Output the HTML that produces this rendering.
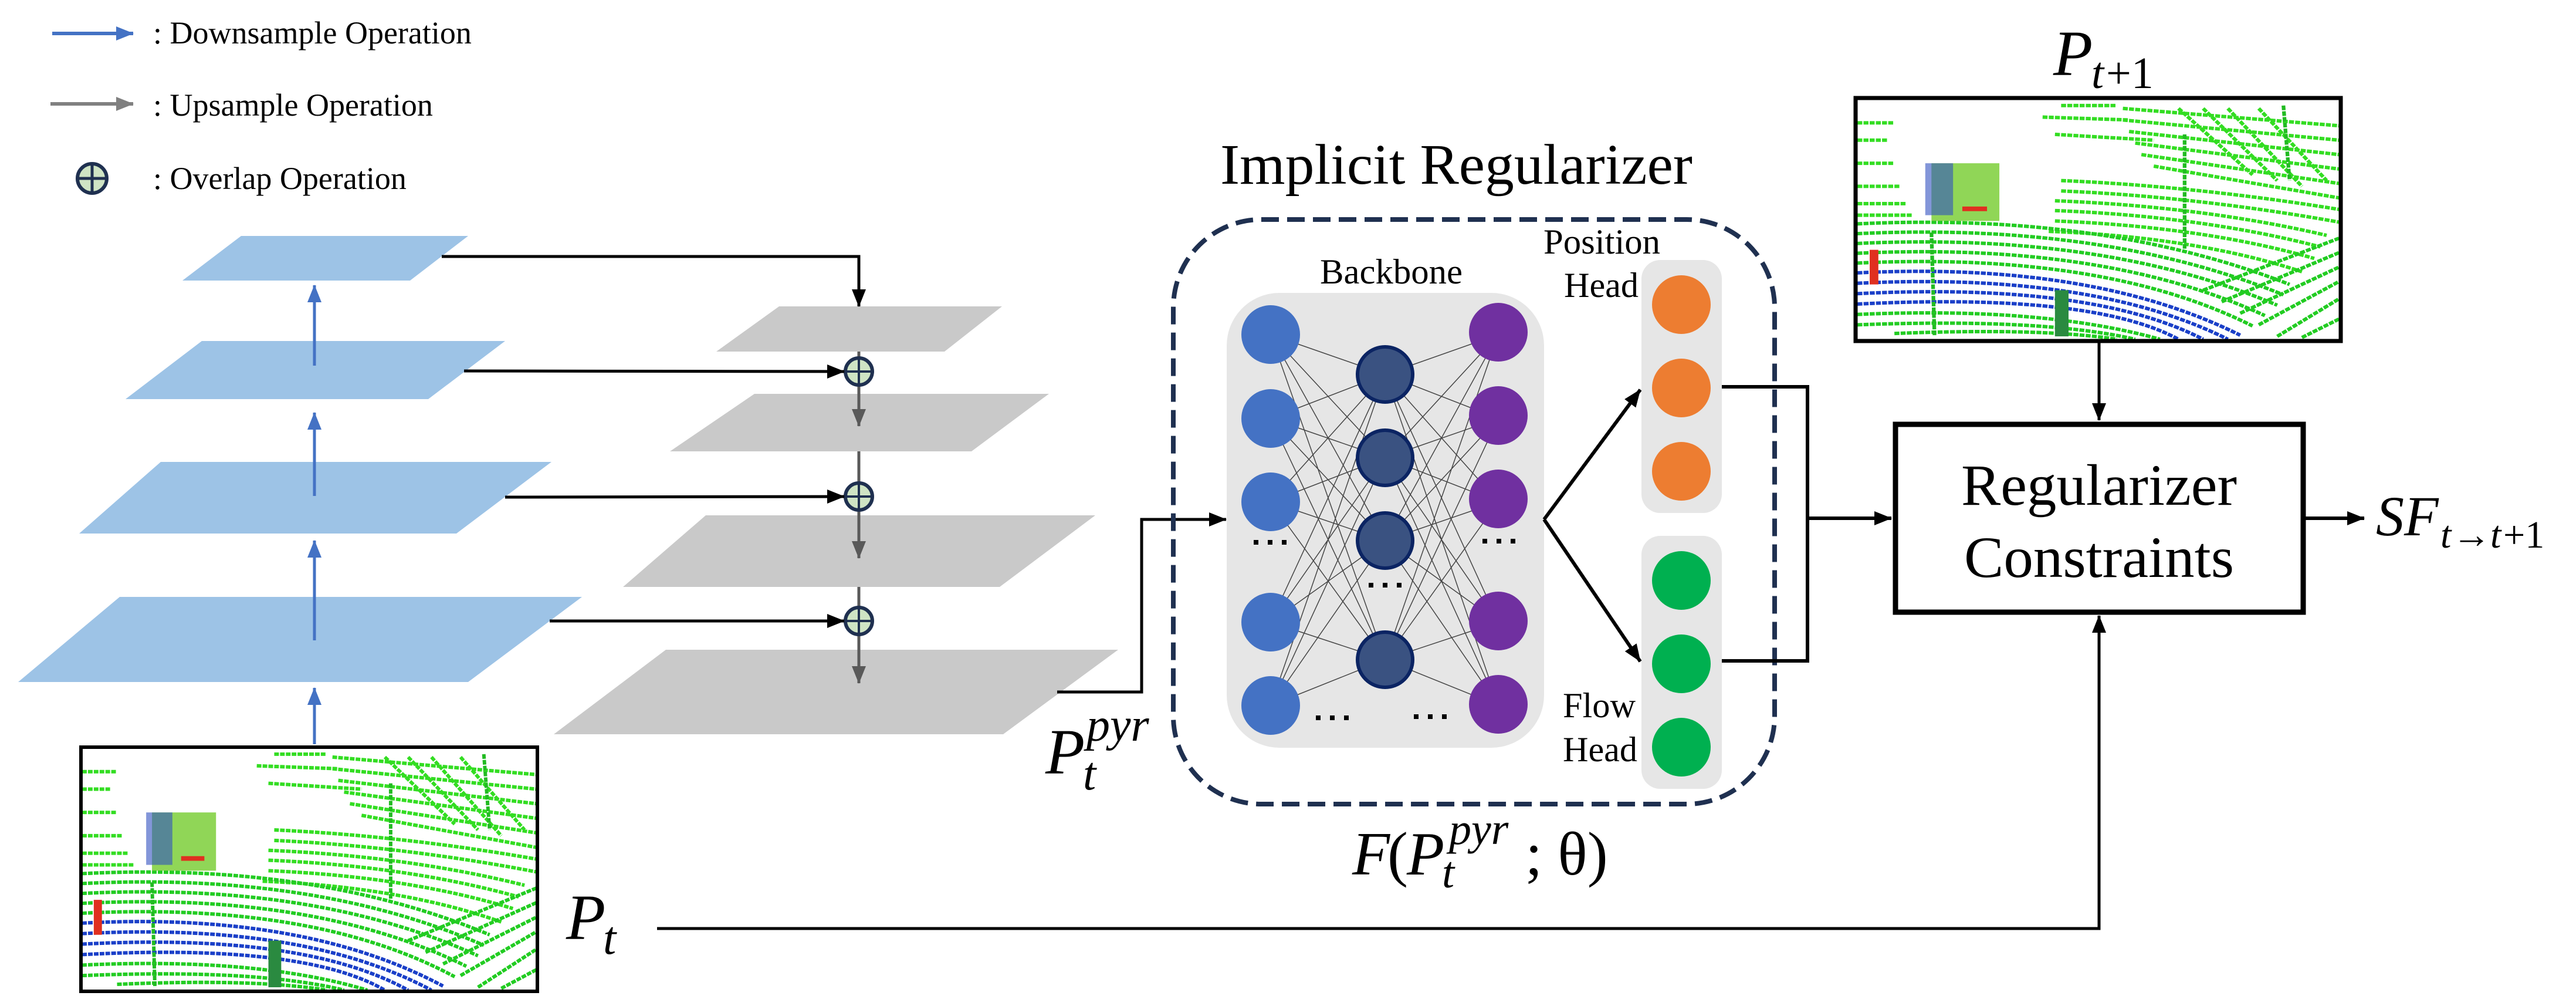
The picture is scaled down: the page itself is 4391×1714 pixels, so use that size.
<!DOCTYPE html>
<html><head><meta charset="utf-8"><style>
html,body{margin:0;padding:0;background:#fff;}
svg{display:block;}
svg text{font-family:"Liberation Serif","Times New Roman",Times,"DejaVu Serif","Noto Serif CJK SC",serif;}
</style></head><body>
<svg width="4391" height="1714" viewBox="0 0 4391 1714" xmlns="http://www.w3.org/2000/svg">
<defs>
<marker id="abk" markerWidth="30" markerHeight="30" refX="29" refY="15" orient="auto" markerUnits="userSpaceOnUse" viewBox="0 0 30 30"><path d="M0,3 L30,15 L0,27 z" fill="#000"/></marker>
<marker id="abl" markerWidth="30" markerHeight="30" refX="29" refY="15" orient="auto" markerUnits="userSpaceOnUse" viewBox="0 0 30 30"><path d="M0,3 L30,15 L0,27 z" fill="#4472c4"/></marker>
<marker id="agr" markerWidth="30" markerHeight="30" refX="29" refY="15" orient="auto" markerUnits="userSpaceOnUse" viewBox="0 0 30 30"><path d="M0,3 L30,15 L0,27 z" fill="#595959"/></marker>
<marker id="agr2" markerWidth="30" markerHeight="30" refX="29" refY="15" orient="auto" markerUnits="userSpaceOnUse" viewBox="0 0 30 30"><path d="M0,3 L30,15 L0,27 z" fill="#808080"/></marker>
<symbol id="pc" viewBox="0 0 780 415" preserveAspectRatio="none">
<rect x="0" y="0" width="780" height="415" fill="#fff"/>
<g fill="none" stroke-width="6" stroke-dasharray="8 2">
<path d="M0 40 L60 40 M0 70 L50 70 M0 110 L60 110 M0 150 L70 150 M0 180 L80 180 M0 200 L90 200" stroke="#33dd22"/>
<path d="M330 10 L420 10 M300 30 L440 35 M320 60 L480 70 M430 15 L780 45 M430 35 L780 70 M440 55 L780 95 M450 75 L780 120 M460 95 L780 145 M480 115 L780 170 M520 15 L640 130 M560 15 L680 140 M600 15 L720 150 M650 15 L760 140" stroke="#33dd22"/>
<path d="M330 140 Q550 150 780 190 M330 158 Q550 168 780 212 M320 175 Q560 185 760 235 M320 192 Q560 202 750 255 M320 210 Q560 220 740 275 M310 228 Q550 238 720 298" stroke="#33dd22"/>
<path d="M0 215 Q400 195 700 320 M0 232 Q400 212 690 338 M0 249 Q400 229 680 356 M0 266 Q400 246 660 374 M0 283 Q400 263 640 392" stroke="#22cc22"/>
<path d="M0 300 Q380 280 620 408 M0 318 Q380 298 600 415 M0 336 Q380 316 560 415 M0 354 Q380 334 520 415" stroke="#1a3fc8"/>
<path d="M0 372 Q300 358 490 415 M0 390 Q300 378 450 415 M60 405 Q300 395 420 415" stroke="#22cc22"/>
<path d="M560 330 L780 240 M590 350 L780 265 M620 370 L780 290 M650 390 L780 315 M680 410 L780 345 M720 412 L780 380" stroke="#22cc22"/>
<path d="M530 60 L530 260 M120 230 L125 410 M690 10 L700 140" stroke="#22bb22"/>
</g>
<rect x="120" y="110" width="110" height="100" fill="#7ccf3a" opacity="0.85"/>
<rect x="110" y="110" width="45" height="90" fill="#3050c0" opacity="0.6"/>
<rect x="170" y="185" width="40" height="8" fill="#e03020"/>
<rect x="20" y="260" width="14" height="60" fill="#e03020"/>
<rect x="320" y="330" width="22" height="80" fill="#2a8a40"/>
</symbol>
</defs>

<!-- Legend -->
<line x1="89" y1="57" x2="227" y2="57" stroke="#4472c4" stroke-width="6" marker-end="url(#abl)"/>
<text x="261" y="74" font-size="54">: Downsample Operation</text>
<line x1="86" y1="177" x2="227" y2="177" stroke="#808080" stroke-width="6" marker-end="url(#agr2)"/>
<text x="261" y="197" font-size="54">: Upsample Operation</text>
<circle cx="157" cy="304" r="25" fill="#cfe4c4" stroke="#1f3050" stroke-width="6"/>
<line x1="157" y1="279" x2="157" y2="329" stroke="#1f3050" stroke-width="5"/>
<line x1="132" y1="304" x2="182" y2="304" stroke="#1f3050" stroke-width="5"/>
<text x="261" y="322" font-size="54">: Overlap Operation</text>

<!-- Blue planes -->
<g fill="#9dc3e6">
<polygon points="411,402 798,402 699,478 311,478"/>
<polygon points="344,581 861,581 730,680 214,680"/>
<polygon points="274,787 940,787 778,909 135,909"/>
<polygon points="204,1017 992,1017 798,1162 31,1162"/>
</g>
<g stroke="#4472c4" stroke-width="5">
<line x1="536" y1="623" x2="536" y2="486" marker-end="url(#abl)"/>
<line x1="536" y1="845" x2="536" y2="703" marker-end="url(#abl)"/>
<line x1="536" y1="1091" x2="536" y2="921" marker-end="url(#abl)"/>
<line x1="536" y1="1268" x2="536" y2="1172" marker-end="url(#abl)"/>
</g>

<!-- Gray planes -->
<g fill="#c9c9c9">
<polygon points="1328,522 1708,522 1610,599 1221,599"/>
<polygon points="1286,671 1788,671 1656,769 1142,769"/>
<polygon points="1203,878 1867,878 1704,1000 1062,1000"/>
<polygon points="1135,1107 1906,1107 1710,1251 944,1251"/>
</g>
<g stroke="#595959" stroke-width="5">
<line x1="1464" y1="599" x2="1464" y2="610"/>
<line x1="1464" y1="655" x2="1464" y2="726" marker-end="url(#agr)"/>
<line x1="1464" y1="769" x2="1464" y2="824"/>
<line x1="1464" y1="868" x2="1464" y2="951" marker-end="url(#agr)"/>
<line x1="1464" y1="1000" x2="1464" y2="1036"/>
<line x1="1464" y1="1080" x2="1464" y2="1164" marker-end="url(#agr)"/>
</g>
<g>
<circle cx="1464" cy="633" r="23" fill="#cfe4c4" stroke="#1f3050" stroke-width="6"/>
<circle cx="1464" cy="846" r="23" fill="#cfe4c4" stroke="#1f3050" stroke-width="6"/>
<circle cx="1464" cy="1058" r="23" fill="#cfe4c4" stroke="#1f3050" stroke-width="6"/>
</g>
<g stroke="#1f3050" stroke-width="4">
<line x1="1464" y1="610" x2="1464" y2="656"/><line x1="1441" y1="633" x2="1487" y2="633"/>
<line x1="1464" y1="823" x2="1464" y2="869"/><line x1="1441" y1="846" x2="1487" y2="846"/>
<line x1="1464" y1="1035" x2="1464" y2="1081"/><line x1="1441" y1="1058" x2="1487" y2="1058"/>
</g>
<g stroke="#000" stroke-width="5" fill="none">
<polyline points="753,437 1464,437 1464,522" marker-end="url(#abk)"/>
<line x1="791" y1="632" x2="1439" y2="633" marker-end="url(#abk)"/>
<line x1="861" y1="847" x2="1439" y2="846" marker-end="url(#abk)"/>
<line x1="937" y1="1058" x2="1439" y2="1058" marker-end="url(#abk)"/>
<polyline points="1802,1179 1946,1179 1946,885 2090,885" marker-end="url(#abk)"/>
</g>

<!-- Pt image -->
<use href="#pc" x="140" y="1275" width="774" height="412"/>
<rect x="138" y="1273" width="778" height="416" fill="none" stroke="#000" stroke-width="6"/>
<text x="965" y="1600" font-size="110" font-style="italic">P</text>
<text x="1028" y="1625" font-size="80" font-style="italic">t</text>
<polyline points="1120,1582 3578,1582 3578,1049" fill="none" stroke="#000" stroke-width="5" marker-end="url(#abk)"/>

<!-- P_t^pyr -->
<text x="1782" y="1318" font-size="110" font-style="italic">P</text>
<text x="1846" y="1345" font-size="80" font-style="italic">t</text>
<text x="1852" y="1262" font-size="80" font-style="italic">pyr</text>

<!-- Implicit regularizer -->
<text x="2080" y="313" font-size="98" textLength="805" lengthAdjust="spacingAndGlyphs">Implicit Regularizer</text>
<rect x="2000" y="374" width="1025" height="996" rx="150" ry="150" fill="none" stroke="#1f3050" stroke-width="8" stroke-dasharray="30 14"/>
<text x="2250" y="483" font-size="60" textLength="243" lengthAdjust="spacingAndGlyphs">Backbone</text>
<rect x="2091" y="499" width="541" height="775" rx="90" ry="90" fill="#e6e6e6"/>
<g stroke="#444" stroke-width="1.5">
<path d="M2166 570 L2361 638 M2166 570 L2361 780 M2166 570 L2361 921 M2166 570 L2361 1124
M2166 713 L2361 638 M2166 713 L2361 780 M2166 713 L2361 921 M2166 713 L2361 1124
M2166 855 L2361 638 M2166 855 L2361 780 M2166 855 L2361 921 M2166 855 L2361 1124
M2166 1060 L2361 638 M2166 1060 L2361 780 M2166 1060 L2361 921 M2166 1060 L2361 1124
M2166 1202 L2361 638 M2166 1202 L2361 780 M2166 1202 L2361 921 M2166 1202 L2361 1124
M2554 570 L2361 638 M2554 570 L2361 780 M2554 570 L2361 921 M2554 570 L2361 1124
M2554 713 L2361 638 M2554 713 L2361 780 M2554 713 L2361 921 M2554 713 L2361 1124
M2554 855 L2361 638 M2554 855 L2361 780 M2554 855 L2361 921 M2554 855 L2361 1124
M2554 1060 L2361 638 M2554 1060 L2361 780 M2554 1060 L2361 921 M2554 1060 L2361 1124
M2554 1202 L2361 638 M2554 1202 L2361 780 M2554 1202 L2361 921 M2554 1202 L2361 1124"/>
</g>
<g fill="#4472c4">
<circle cx="2166" cy="570" r="50"/><circle cx="2166" cy="713" r="50"/><circle cx="2166" cy="855" r="50"/><circle cx="2166" cy="1060" r="50"/><circle cx="2166" cy="1202" r="50"/>
</g>
<g fill="#3a5281" stroke="#0b2463" stroke-width="6">
<circle cx="2361" cy="638" r="47"/><circle cx="2361" cy="780" r="47"/><circle cx="2361" cy="921" r="47"/><circle cx="2361" cy="1124" r="47"/>
</g>
<g fill="#7030a0">
<circle cx="2554" cy="566" r="50"/><circle cx="2554" cy="708" r="50"/><circle cx="2554" cy="850" r="50"/><circle cx="2554" cy="1058" r="50"/><circle cx="2554" cy="1200" r="50"/>
</g>
<g fill="#000">
<rect x="2137" y="920" width="8" height="8"/><rect x="2161" y="920" width="8" height="8"/><rect x="2185" y="920" width="8" height="8"/>
<rect x="2527" y="918" width="8" height="8"/><rect x="2551" y="918" width="8" height="8"/><rect x="2575" y="918" width="8" height="8"/>
<rect x="2333" y="993" width="8" height="8"/><rect x="2357" y="993" width="8" height="8"/><rect x="2381" y="993" width="8" height="8"/>
<rect x="2243" y="1219" width="8" height="8"/><rect x="2267" y="1219" width="8" height="8"/><rect x="2291" y="1219" width="8" height="8"/>
<rect x="2410" y="1217" width="8" height="8"/><rect x="2434" y="1217" width="8" height="8"/><rect x="2458" y="1217" width="8" height="8"/>
</g>

<!-- Heads -->
<rect x="2798" y="443" width="137" height="431" rx="32" ry="32" fill="#e6e6e6"/>
<rect x="2798" y="913" width="137" height="431" rx="32" ry="32" fill="#e6e6e6"/>
<g fill="#ed7d31"><circle cx="2866" cy="519" r="50"/><circle cx="2866" cy="661" r="50"/><circle cx="2866" cy="803" r="50"/></g>
<g fill="#00b050"><circle cx="2866" cy="989" r="50"/><circle cx="2866" cy="1131" r="50"/><circle cx="2866" cy="1273" r="50"/></g>
<text x="2631" y="432" font-size="60" textLength="199" lengthAdjust="spacingAndGlyphs">Position</text>
<text x="2666" y="506" font-size="60" textLength="127" lengthAdjust="spacingAndGlyphs">Head</text>
<text x="2664" y="1222" font-size="60" textLength="124" lengthAdjust="spacingAndGlyphs">Flow</text>
<text x="2664" y="1297" font-size="60" textLength="127" lengthAdjust="spacingAndGlyphs">Head</text>
<g stroke="#000" stroke-width="6" fill="none">
<line x1="2632" y1="885" x2="2796" y2="664" marker-end="url(#abk)"/>
<line x1="2632" y1="885" x2="2796" y2="1127" marker-end="url(#abk)"/>
<polyline points="2935,659 3081,659 3081,1126 2935,1126"/>
<line x1="3081" y1="883" x2="3224" y2="883" marker-end="url(#abk)"/>
</g>

<text x="2305" y="1490" font-size="105" font-style="italic">F</text>
<text x="2365" y="1490" font-size="105">(</text>
<text x="2398" y="1490" font-size="105" font-style="italic">P</text>
<text x="2458" y="1512" font-size="76" font-style="italic">t</text>
<text x="2470" y="1438" font-size="76" font-style="italic">pyr</text>
<text x="2600" y="1490" font-size="105">; θ)</text>

<!-- P_{t+1} -->
<text x="3500" y="128" font-size="110" font-style="italic">P</text>
<text x="3565" y="150" font-size="76" font-style="italic">t</text>
<text x="3590" y="150" font-size="76">+1</text>
<use href="#pc" x="3166" y="170" width="821" height="408"/>
<rect x="3163" y="167" width="827" height="414" fill="none" stroke="#000" stroke-width="7"/>
<line x1="3578" y1="581" x2="3578" y2="716" stroke="#000" stroke-width="5" marker-end="url(#abk)"/>

<!-- Regularizer constraints -->
<rect x="3231" y="723" width="695" height="320" fill="#fff" stroke="#000" stroke-width="9"/>
<text x="3578" y="860" font-size="100" text-anchor="middle" textLength="470" lengthAdjust="spacingAndGlyphs">Regularizer</text>
<text x="3578" y="983" font-size="100" text-anchor="middle" textLength="460" lengthAdjust="spacingAndGlyphs">Constraints</text>
<line x1="3930" y1="883" x2="4030" y2="883" stroke="#000" stroke-width="6" marker-end="url(#abk)"/>
<text x="4050" y="912" font-size="96" font-style="italic">SF</text>
<text x="4160" y="933" font-size="66" font-style="italic">t</text>
<text x="4180" y="933" font-size="66">→</text>
<text x="4245" y="933" font-size="66" font-style="italic">t</text>
<text x="4267" y="933" font-size="66">+1</text>
</svg>
</body></html>
